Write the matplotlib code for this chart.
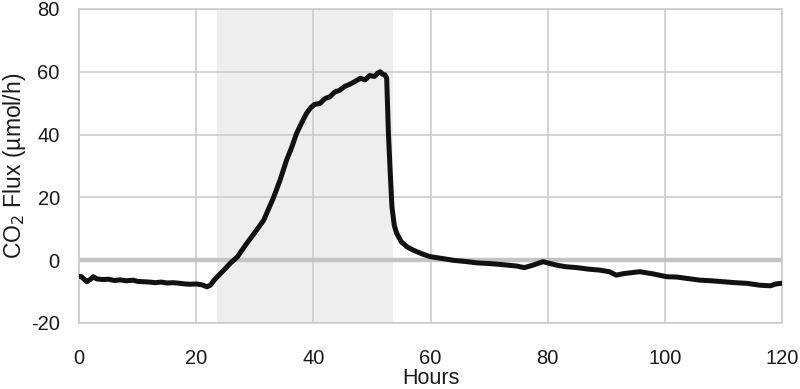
import matplotlib.pyplot as plt

# CO2 flux readings (hours, umol/h)
hours = [0, 0.4, 1.0, 1.3, 2.0, 2.4, 3, 4, 5, 6, 7, 8, 9.2, 10, 11, 12, 13, 14, 15,
         16, 17.2, 18, 19, 20, 21, 21.8, 22.4, 23, 24, 25, 25.8, 27, 28.6, 30,
         31.5, 33.2, 34.3, 35.4, 36.3, 37.1, 38.0, 38.8, 39.5, 40.2, 41.1, 42,
         42.8, 43.6, 44.5, 45.3, 46.2, 47, 48, 48.8, 49.6, 50.4, 51, 51.4, 51.8,
         52.2, 52.5, 52.8, 53.1, 53.4, 53.8, 54.2, 55, 56, 57, 58.5, 59.9, 62,
         64, 66.2, 68, 70, 72, 74.7, 76, 77.5, 79.2, 80, 81.5, 83, 85, 87, 88.9,
         90.5, 91.7, 93, 95.7, 98, 100.3, 102, 104, 106, 108, 110, 112, 114,
         116.2, 118, 119, 119.9]
flux = [-5.2, -5.3, -6.4, -6.9, -6.0, -5.3, -6.0, -6.2, -6.1, -6.5, -6.3, -6.6,
        -6.4, -6.8, -6.9, -7.0, -7.2, -7.0, -7.3, -7.2, -7.4, -7.6, -7.7, -7.6,
        -7.9, -8.5, -8.0, -6.5, -4.5, -2.6, -1.0, 1.0, 5.3, 8.8, 12.7, 20.0,
        25.5, 31.8, 36.0, 40.3, 43.8, 46.7, 48.5, 49.6, 49.9, 51.5, 52.0, 53.5,
        54.1, 55.3, 56.0, 56.8, 57.9, 57.4, 58.8, 58.5, 59.6, 60.0, 59.2, 59.0,
        58.0, 40.4, 28.0, 17.0, 11.0, 8.6, 5.8, 4.2, 3.2, 2.0, 1.1, 0.5, -0.1,
        -0.5, -0.9, -1.1, -1.4, -1.9, -2.4, -1.6, -0.5, -0.9, -1.6, -2.1, -2.4,
        -2.9, -3.2, -3.7, -4.8, -4.3, -3.7, -4.4, -5.3, -5.4, -5.9, -6.4, -6.6,
        -6.9, -7.2, -7.4, -8.0, -8.2, -7.6, -7.4]

light_start, light_end = 23.5, 53.6

plt.rcParams['font.family'] = ['Liberation Sans', 'DejaVu Sans']
plt.rcParams['axes.unicode_minus'] = False

fig = plt.figure(figsize=(8, 3.89), dpi=100)
ax = fig.add_axes([0.099, 0.170, 0.8785, 0.807])

ax.axvspan(light_start, light_end, color='#eeeeee', zorder=0, lw=0)
ax.axhline(0, color='#c4c4c4', lw=3.2, zorder=1)
ax.plot(hours, flux, color='#111111', lw=3.6, zorder=3,
        solid_capstyle='round', solid_joinstyle='round')

ax.set_xlim(0, 120)
ax.set_ylim(-20, 80)
ax.set_xticks(range(0, 121, 20))
ax.set_yticks(range(-20, 81, 20))
ax.grid(True, color='#cccccc', lw=1.2, zorder=0.5)
ax.set_axisbelow(True)
for s in ax.spines.values():
    s.set_color('#cccccc')
    s.set_linewidth(1.2)
ax.tick_params(length=0, labelsize=14.5, colors='#1a1a1a')
ax.tick_params(axis='x', pad=19)
ax.tick_params(axis='y', pad=14)
ax.set_xlabel('Hours', fontsize=15.5, color='#1a1a1a', labelpad=0)
ax.set_ylabel('CO$_2$ Flux (µmol/h)', fontsize=16.5, color='#1a1a1a', labelpad=2)

fig.savefig('out.png', dpi=100)
